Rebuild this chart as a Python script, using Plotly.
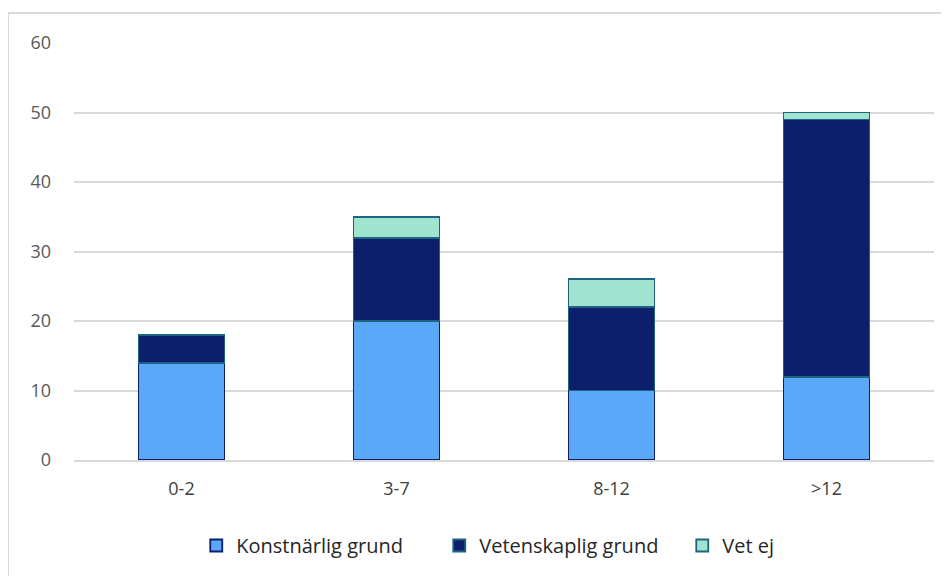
import plotly.graph_objects as go

# ==========================================================
# Data
# ==========================================================

categories = ["0-2", "3-7", "8-12", ">12"]

konstnarlig = [14, 20, 10, 12]
vetenskaplig = [4, 12, 12, 37]
vet_ej = [0, 3, 4, 1]

fig = go.Figure()

fig.add_trace(go.Bar(
    x=categories, y=konstnarlig, name="Konstnärlig grund",
    marker=dict(color="#5BA8F8", line=dict(color="#0D1F6B", width=1.8)),
))
fig.add_trace(go.Bar(
    x=categories, y=vetenskaplig, name="Vetenskaplig grund",
    marker=dict(color="#0D1F6B", line=dict(color="#1E6380", width=1.8)),
))
fig.add_trace(go.Bar(
    x=categories, y=vet_ej, name="Vet ej",
    marker=dict(color="#A0E4D0", line=dict(color="#1E6380", width=1.8)),
))

# the page adds an 8px offset, so margins are shifted to compensate
fig.update_layout(
    barmode="stack",
    bargap=0.6,
    width=949,
    height=576,
    plot_bgcolor="white",
    paper_bgcolor="white",
    font=dict(family="Open Sans, Lato, sans-serif", size=18, color="#595959"),
    margin=dict(l=66, r=23, t=35, b=124),
    legend=dict(
        orientation="h",
        x=0.566, xanchor="center",
        y=-0.205, yanchor="middle",
        font=dict(size=20, color="#262626"),
        itemwidth=30,
        entrywidth=198,
        entrywidthmode="pixels",
        traceorder="normal",
    ),
    shapes=[dict(
        type="rect", xref="paper", yref="paper",
        x0=-0.0767, x1=1.2, y0=-0.4, y1=1.072,
        line=dict(color="#D9D9D9", width=2),
        fillcolor="rgba(0,0,0,0)", layer="below",
    )],
)

fig.update_yaxes(
    range=[0, 60], dtick=10,
    showgrid=True, gridcolor="#D9D9D9", gridwidth=1.5,
    zeroline=False, showline=False,
    ticks="", ticklabelstandoff=22,
)
fig.update_xaxes(
    showline=True, linecolor="#D9D9D9", linewidth=1.5,
    ticks="", ticklabelstandoff=12,
    tickfont=dict(color="#404040", size=18),
)

fig.write_html("out.html")
